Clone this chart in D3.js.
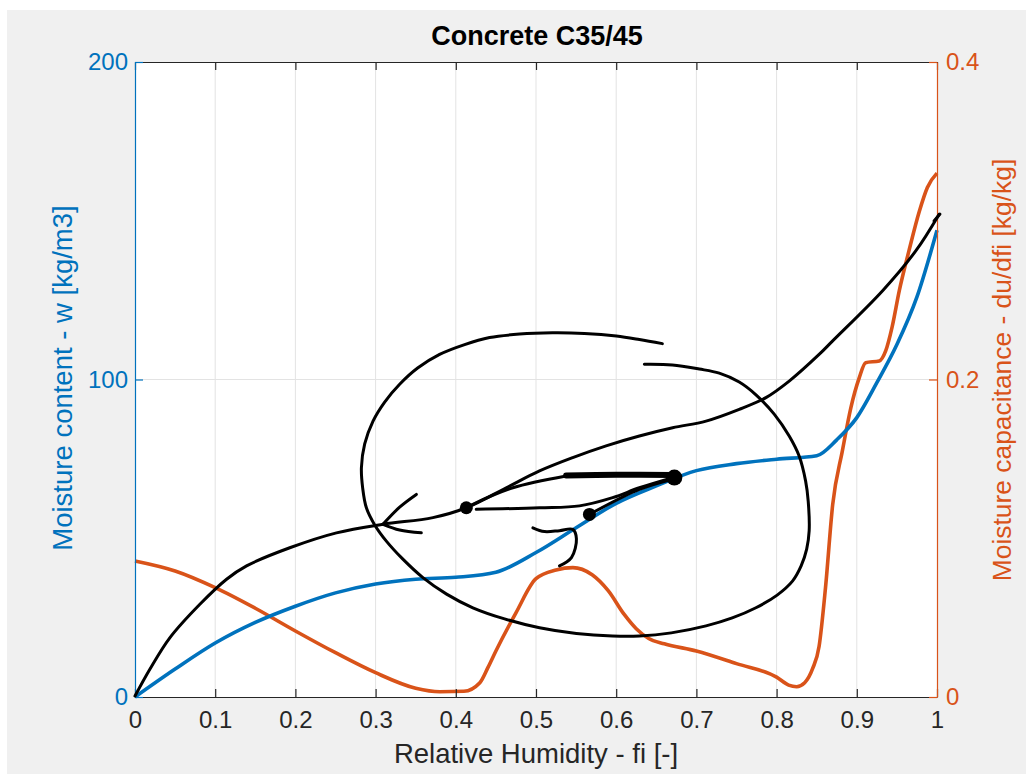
<!DOCTYPE html>
<html>
<head>
<meta charset="utf-8">
<script src="https://cdn.jsdelivr.net/npm/d3@7"></script>
<style>
  body { margin: 0; background: #fff; }
  svg { display: block; font-family: "Liberation Sans", Arial, Helvetica, sans-serif; }
</style>
</head>
<body>
<div id="chart"></div>
<script>
var
  // sorption isotherm, left axis
  humidity = [0, 0.05, 0.1, 0.15, 0.2, 0.25, 0.3, 0.35, 0.4, 0.45, 0.5, 0.55, 0.6, 0.65,
    0.7, 0.75, 0.8, 0.85, 0.875, 0.9, 0.925, 0.95, 0.975, 1],
  moistureContent = [0, 8.8, 17, 23.5, 28.6, 32.8, 35.6, 37.1, 37.7, 39.3, 45.5, 53.3, 61, 66.5,
    71.3, 73.5, 74.9, 76, 81, 88, 99, 111, 126, 147],

  // moisture capacity, right axis
  capacityHumidity = [0, 0.05, 0.1, 0.15, 0.2, 0.25, 0.3, 0.35, 0.38, 0.41, 0.43, 0.44, 0.45,
    0.475, 0.5, 0.525, 0.546, 0.57, 0.59, 0.61, 0.625, 0.64, 0.66, 0.7, 0.75, 0.8, 0.815, 0.825,
    0.835, 0.845, 0.853, 0.861, 0.87, 0.882, 0.8925, 0.903, 0.911, 0.928, 0.936, 0.944, 0.953,
    0.965, 0.978, 0.988, 1],
  moistureCapacity = [0.0857, 0.0794, 0.0689, 0.0559, 0.0416, 0.0279, 0.0153, 0.0055, 0.0033,
    0.0036, 0.009, 0.0185, 0.029, 0.053, 0.0745, 0.080, 0.0815, 0.077, 0.067, 0.052, 0.043,
    0.037, 0.0335, 0.029, 0.021, 0.0125, 0.0075, 0.0065, 0.009, 0.018, 0.032, 0.069, 0.1215,
    0.155, 0.182, 0.201, 0.2106, 0.2117, 0.218, 0.233, 0.256, 0.281, 0.306, 0.321, 0.330],

  xTicks = [0, 0.1, 0.2, 0.3, 0.4, 0.5, 0.6, 0.7, 0.8, 0.9, 1],
  xTickLabels = ["0", "0.1", "0.2", "0.3", "0.4", "0.5", "0.6", "0.7", "0.8", "0.9", "1"],
  leftTicks = [0, 100, 200],
  rightTicks = [0, 0.2, 0.4],
  rightTickLabels = ["0", "0.2", "0.4"],

  // hand drawn ink on top of the plot, as [humidity, moisture content]
  inkLongCurve = [[0, 0.3], [0.0187, 8.8], [0.0436, 18.7], [0.0809, 29.2], [0.1142, 37.1],
    [0.1391, 41.3], [0.193, 47.0], [0.2512, 51.7], [0.3092, 54.4], [0.3715, 56.5],
    [0.4131, 59.6], [0.4629, 65.9], [0.5044, 71.2], [0.5458, 75.4], [0.5874, 79.1],
    [0.6289, 82.2], [0.6704, 84.8], [0.712, 86.9], [0.7534, 90.6], [0.7867, 94.3],
    [0.8157, 99.5], [0.853, 107.9], [0.8696, 112.1], [0.9319, 127.9], [0.9735, 140.5],
    [1.0025, 152.0]],
  inkEndBarb = [[0.9963, 149.9], [1.0037, 152.1]],
  inkUpperLine = [[0.4131, 59.6], [0.4213, 60.7], [0.4711, 65.9], [0.5376, 69.6]],
  inkThickBar = [[0.5376, 69.8], [0.60, 70.0], [0.6704, 69.9]],
  inkLowerLine = [[0.4255, 59.1], [0.5044, 59.6], [0.5542, 60.2], [0.5956, 62.8],
    [0.6289, 65.9], [0.6704, 69.1]],
  inkShortLine = [[0.5666, 57.5], [0.6289, 65.4], [0.6704, 68.6]],
  inkHook = [[0.4961, 53.3], [0.5106, 52.1], [0.5293, 52.4], [0.5458, 52.8], [0.5504, 49.8],
    [0.5442, 43.9], [0.5293, 41.3]],
  inkArrowUpper = [[0.3508, 63.8], [0.33, 59.8], [0.3092, 54.4]],
  inkArrowLower = [[0.357, 51.7], [0.33, 52.6], [0.3092, 54.4]],
  inkLoop = [[0.6575, 111.3], [0.6289, 112.6], [0.6002, 113.7], [0.5604, 114.5],
    [0.5205, 114.7], [0.4795, 114.3], [0.4421, 113.2], [0.411, 111.0], [0.3798, 107.9],
    [0.3524, 103.6], [0.33, 98.5], [0.3113, 92.9], [0.2968, 86.9], [0.2864, 79.7],
    [0.2823, 72.2], [0.2839, 65.8], [0.2885, 59.6], [0.2989, 54.2], [0.3134, 49.1],
    [0.3337, 43.5], [0.359, 37.6], [0.3885, 32.4], [0.4213, 28.1], [0.4608, 24.6],
    [0.5044, 21.8], [0.5504, 20.0], [0.5953, 19.2], [0.6289, 19.2], [0.6687, 20.2],
    [0.712, 22.4], [0.7447, 24.9], [0.7742, 28.1], [0.8007, 32.1], [0.8198, 36.5],
    [0.8306, 41.3], [0.8375, 46.6], [0.8406, 52.3], [0.8394, 61.7], [0.8362, 68.0],
    [0.8281, 75.9], [0.8157, 82.2], [0.797, 89.1], [0.7746, 95.1], [0.7534, 99.2],
    [0.7285, 102.0], [0.7036, 103.3], [0.67, 104.6], [0.6351, 104.8]],
  inkDots = [[0.4131, 59.6, 6.5], [0.5666, 57.5, 6.5], [0.6725, 69.1, 8]];

var
  WIDTH = 1026,
  HEIGHT = 774,
  PLOT_LEFT = 135,
  PLOT_RIGHT = 937,
  PLOT_TOP = 62,
  PLOT_BOTTOM = 697,
  BLUE = "#0072bd",
  ORANGE = "#d95319",
  AXIS_COLOR = "#262626",
  GRID_COLOR = "#e3e3e3",
  FIGURE_COLOR = "#f0f0f0",
  TICK_SIZE = 8,
  TICK_FONT = 24,
  LABEL_FONT = 26.4;

var
  svg = d3.select("#chart").append("svg")
    .attr("width", WIDTH)
    .attr("height", HEIGHT),
  x = d3.scaleLinear().domain([0, 1]).range([PLOT_LEFT, PLOT_RIGHT]),
  yLeft = d3.scaleLinear().domain([0, 200]).range([PLOT_BOTTOM, PLOT_TOP]),
  yRight = d3.scaleLinear().domain([0, 0.4]).range([PLOT_BOTTOM, PLOT_TOP]);

// figure background
svg.append("rect").attr("width", WIDTH).attr("height", HEIGHT).attr("fill", "#fff");
svg.append("rect")
  .attr("x", 7).attr("y", 10)
  .attr("width", WIDTH - 7).attr("height", HEIGHT - 10)
  .attr("fill", FIGURE_COLOR);
svg.append("rect")
  .attr("x", PLOT_LEFT).attr("y", PLOT_TOP)
  .attr("width", PLOT_RIGHT - PLOT_LEFT).attr("height", PLOT_BOTTOM - PLOT_TOP)
  .attr("fill", "#fff");

// grid
var grid = svg.append("g").attr("stroke", GRID_COLOR).attr("stroke-width", 1);
grid.selectAll("line.v").data(xTicks.slice(1, -1)).join("line")
  .attr("class", "v")
  .attr("x1", function(d){ return x(d); })
  .attr("x2", function(d){ return x(d); })
  .attr("y1", PLOT_TOP).attr("y2", PLOT_BOTTOM);
grid.selectAll("line.h").data(leftTicks.slice(1, -1)).join("line")
  .attr("class", "h")
  .attr("x1", PLOT_LEFT).attr("x2", PLOT_RIGHT)
  .attr("y1", function(d){ return yLeft(d); })
  .attr("y2", function(d){ return yLeft(d); });

// data lines
function drawSeries(xs, ys, yScale, color){
  var line = d3.line()
    .x(function(d, i){ return x(xs[i]); })
    .y(function(d){ return yScale(d); })
    .curve(d3.curveMonotoneX);
  svg.append("path")
    .attr("d", line(ys))
    .attr("fill", "none")
    .attr("stroke", color)
    .attr("stroke-width", 3.6)
    .attr("stroke-linejoin", "round");
}

drawSeries(capacityHumidity, moistureCapacity, yRight, ORANGE);
drawSeries(humidity, moistureContent, yLeft, BLUE);

// axes
function styleAxis(g, color, textColor){
  g.attr("font-size", TICK_FONT).attr("font-family", null);
  g.select(".domain").attr("stroke", color).attr("stroke-width", 1.2);
  g.selectAll(".tick line").attr("stroke", color).attr("stroke-width", 1.2);
  g.selectAll(".tick text").attr("fill", textColor);
}

var bottomAxis = svg.append("g")
  .attr("transform", "translate(0," + PLOT_BOTTOM + ")")
  .call(d3.axisBottom(x).tickValues(xTicks)
    .tickFormat(function(d, i){ return xTickLabels[i]; })
    .tickSizeInner(-TICK_SIZE).tickSizeOuter(0).tickPadding(14));
styleAxis(bottomAxis, AXIS_COLOR, AXIS_COLOR);

var topAxis = svg.append("g")
  .attr("transform", "translate(0," + PLOT_TOP + ")")
  .call(d3.axisTop(x).tickValues(xTicks).tickFormat("")
    .tickSizeInner(-TICK_SIZE).tickSizeOuter(0));
styleAxis(topAxis, AXIS_COLOR, AXIS_COLOR);

var leftAxis = svg.append("g")
  .attr("transform", "translate(" + PLOT_LEFT + ",0)")
  .call(d3.axisLeft(yLeft).tickValues(leftTicks)
    .tickSizeInner(-TICK_SIZE).tickSizeOuter(0).tickPadding(7));
styleAxis(leftAxis, BLUE, BLUE);

var rightAxis = svg.append("g")
  .attr("transform", "translate(" + PLOT_RIGHT + ",0)")
  .call(d3.axisRight(yRight).tickValues(rightTicks)
    .tickFormat(function(d, i){ return rightTickLabels[i]; })
    .tickSizeInner(-TICK_SIZE).tickSizeOuter(0).tickPadding(9));
styleAxis(rightAxis, ORANGE, ORANGE);

// hand drawn ink
var inkLine = d3.line()
  .x(function(d){ return x(d[0]); })
  .y(function(d){ return yLeft(d[1]); })
  .curve(d3.curveCatmullRom.alpha(0.5));

function drawInk(points, width){
  svg.append("path")
    .attr("d", inkLine(points))
    .attr("fill", "none")
    .attr("stroke", "#000")
    .attr("stroke-width", width)
    .attr("stroke-linecap", "round")
    .attr("stroke-linejoin", "round");
}

drawInk(inkLoop, 3);
drawInk(inkLongCurve, 3);
drawInk(inkEndBarb, 3);
drawInk(inkUpperLine, 3);
drawInk(inkThickBar, 6);
drawInk(inkLowerLine, 3);
drawInk(inkShortLine, 3);
drawInk(inkHook, 3);
drawInk(inkArrowUpper, 3);
drawInk(inkArrowLower, 3);

svg.append("g").selectAll("circle").data(inkDots).join("circle")
  .attr("cx", function(d){ return x(d[0]); })
  .attr("cy", function(d){ return yLeft(d[1]); })
  .attr("r", function(d){ return d[2]; })
  .attr("fill", "#000");

// texts
svg.append("text")
  .attr("x", 537).attr("y", 45)
  .attr("text-anchor", "middle")
  .attr("font-size", 27)
  .attr("font-weight", "bold")
  .attr("fill", "#000")
  .text("Concrete C35/45");

svg.append("text")
  .attr("x", 536).attr("y", 763)
  .attr("text-anchor", "middle")
  .attr("font-size", 27.5)
  .attr("fill", AXIS_COLOR)
  .text("Relative Humidity - fi [-]");

svg.append("text")
  .attr("transform", "translate(72,378) rotate(-90)")
  .attr("text-anchor", "middle")
  .attr("font-size", 27.5)
  .attr("fill", BLUE)
  .text("Moisture content - w [kg/m3]");

svg.append("text")
  .attr("transform", "translate(1011,370) rotate(-90)")
  .attr("text-anchor", "middle")
  .attr("font-size", LABEL_FONT)
  .attr("fill", ORANGE)
  .text("Moisture capacitance - du/dfi [kg/kg]");
</script>
</body>
</html>
